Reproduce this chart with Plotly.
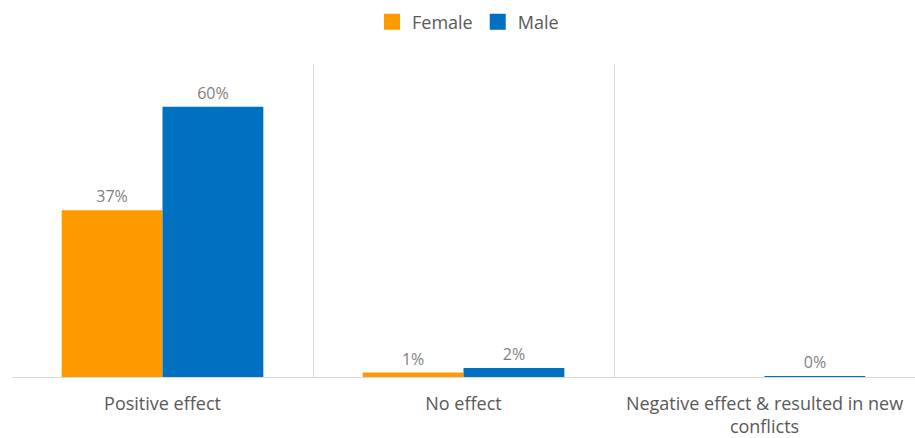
import plotly.graph_objects as go

categories = ["Positive effect", "No effect", "Negative effect & resulted in new<br>conflicts"]
series_names = ["Female", "Male"]
series_colors = ["#FF9900", "#0070C0"]
female = [0.37, 0.01, None]
male = [0.60, 0.02, 0.002]

FONT = "Open Sans, Noto Sans, sans-serif"
LABEL_GREY = "#7f7f7f"
TEXT_GREY = "#595959"

fig = go.Figure()
for name, color, values in zip(series_names, series_colors, [female, male]):
    fig.add_trace(go.Bar(
        name=name, x=categories, y=values, showlegend=False,
        marker=dict(color=color, line=dict(width=0)),
        texttemplate="%{y:.0%}", textposition="outside", cliponaxis=False,
        textfont=dict(family=FONT, size=16, color=LABEL_GREY),
    ))

# legend entries with larger square swatches
for name, color in zip(series_names, series_colors):
    fig.add_trace(go.Scatter(
        name=name, x=[None], y=[None], mode="markers",
        marker=dict(symbol="square", size=17, color=color),
        showlegend=True,
    ))

fig.update_layout(
    width=915, height=438,
    margin=dict(l=12, r=0, t=64, b=61, autoexpand=False),
    paper_bgcolor="white", plot_bgcolor="white",
    barmode="group", bargap=0.33, bargroupgap=0,
    font=dict(family=FONT, color=TEXT_GREY),
    showlegend=True,
    legend=dict(
        orientation="h", x=0.505, xanchor="center",
        yref="container", y=1 - 22 / 438, yanchor="middle",
        font=dict(family=FONT, size=18, color=TEXT_GREY),
        itemsizing="trace", traceorder="normal",
    ),
    xaxis=dict(
        type="category", tickson="boundaries", showgrid=True,
        gridcolor="#d9d9d9", gridwidth=1,
        showline=True, linecolor="#d9d9d9", linewidth=1,
        ticks="", ticklabelstandoff=10,
        tickfont=dict(family=FONT, size=18, color=TEXT_GREY),
    ),
    yaxis=dict(
        range=[0, 0.695], showticklabels=False, showgrid=False,
        zeroline=False, showline=False, ticks="",
    ),
)

fig.write_html("out.html")
